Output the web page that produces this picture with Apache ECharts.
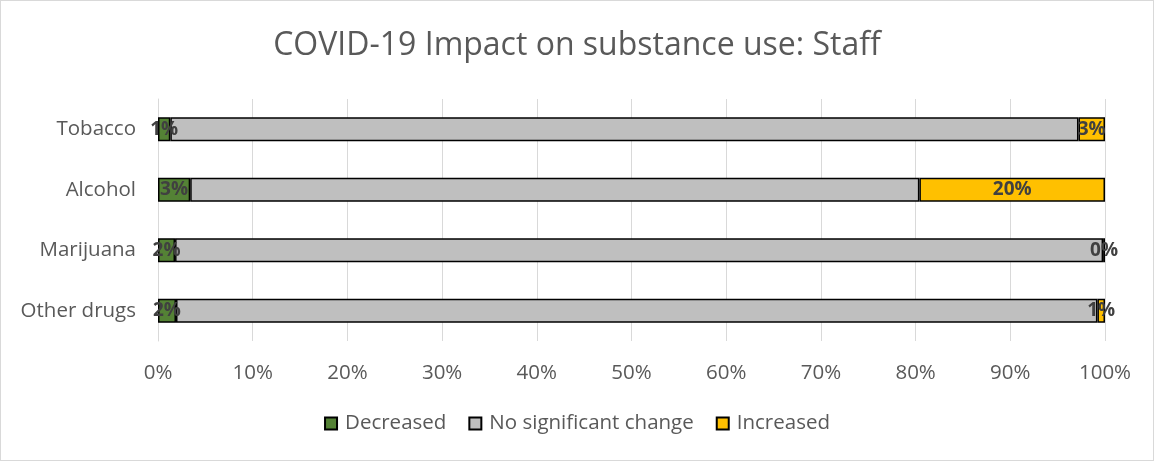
<!DOCTYPE html>
<html>
<head>
<meta charset="utf-8">
<script src="https://cdn.jsdelivr.net/npm/echarts@6/dist/echarts.min.js"></script>
<style>
html,body{margin:0;padding:0;background:#fff;}
#wrap{position:absolute;left:0;top:0;width:1152px;height:459px;border:1px solid #d9d9d9;}
#c{width:1152px;height:459px;}
</style>
</head>
<body>
<div id="wrap"><div id="c"></div></div>
<script>
const categories = ["Tobacco", "Alcohol", "Marijuana", "Other drugs"];
const decreased = [1.3, 3.4, 1.8, 1.9];
const noChange = [95.9, 77.0, 98.0, 97.3];
const increased = [2.8, 19.6, 0.2, 0.8];
const seriesNames = ["Decreased", "No significant change", "Increased"];
const colors = ["#548235", "#bfbfbf", "#ffc000"];

const font = "'Open Sans', 'Noto Sans', sans-serif";
const chart = echarts.init(document.getElementById('c'));
function mk(name, data, color, showLabel) {
  return {
    name: name, type: 'bar', stack: 'all', data: data, barWidth: '40%',
    itemStyle: { color: color, borderColor: '#000', borderWidth: 1.5 },
    label: {
      show: showLabel, position: 'inside', color: '#404040', fontWeight: 'bold',
      fontFamily: font, fontSize: 19,
      formatter: p => Math.round(p.value) + '%'
    },
    emphasis: { disabled: true }
  };
}
chart.setOption({
  animation: false,
  textStyle: { fontFamily: font },
  title: {
    text: 'COVID-19 Impact on substance use: Staff', left: 'center', top: 24,
    textStyle: { fontFamily: font, fontSize: 32, fontWeight: 'normal', color: '#595959' }
  },
  legend: {
    bottom: 21, left: 'center', itemWidth: 12, itemHeight: 12, itemGap: 22,
    icon: 'rect',
    textStyle: { fontFamily: font, fontSize: 20.5, color: '#595959', padding: [0,0,0,3] },
    data: seriesNames
  },
  grid: { left: 157, right: 48, top: 98, bottom: 119, containLabel: false },
  xAxis: {
    type: 'value', min: 0, max: 100, interval: 10,
    axisLabel: { formatter: '{value}%', color: '#595959', fontSize: 20.5, fontFamily: font, margin: 22 },
    splitLine: { lineStyle: { color: '#d9d9d9', width: 1 } },
    axisLine: { show: false }, axisTick: { show: false }
  },
  yAxis: {
    type: 'category', data: categories, inverse: true,
    axisLabel: { color: '#595959', fontSize: 20.5, fontFamily: font, margin: 22 },
    axisLine: { show: true, lineStyle: { color: '#d9d9d9', width: 1 } }, axisTick: { show: false }
  },
  series: [
    mk(seriesNames[0], decreased, colors[0], true),
    mk(seriesNames[1], noChange, colors[1], false),
    mk(seriesNames[2], increased, colors[2], true)
  ]
});
</script>
</body>
</html>
